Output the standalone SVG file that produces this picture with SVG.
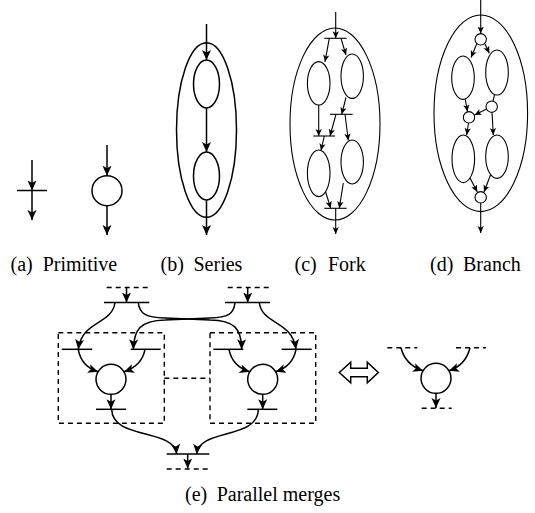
<svg xmlns="http://www.w3.org/2000/svg" width="535" height="513" viewBox="0 0 535 513">
<g id="captions" font-family="'Liberation Serif'" font-size="20" fill="#000">
<text x="10.5" y="270.5">(a)</text>
<text x="42.7" y="270.5">Primitive</text>
<text x="160.5" y="270.5">(b)</text>
<text x="193.5" y="270.5">Series</text>
<text x="294.5" y="270.5">(c)</text>
<text x="328" y="270.5">Fork</text>
<text x="430" y="270.5">(d)</text>
<text x="463" y="270.5">Branch</text>
<text x="185" y="501">(e)</text>
<text x="216.7" y="501">Parallel merges</text>
</g>
<defs>
<marker id="a" viewBox="0 0 10 10" refX="10" refY="5" markerWidth="10" markerHeight="10" markerUnits="userSpaceOnUse" orient="auto"><path d="M0,0.5 L10,5 L0,9.5 L2.5,5 Z" fill="#000" stroke="none"/></marker>
<marker id="b" viewBox="0 0 10 10" refX="10" refY="5" markerWidth="7" markerHeight="7" markerUnits="userSpaceOnUse" orient="auto"><path d="M0,0.5 L10,5 L0,9.5 L2.5,5 Z" fill="#000" stroke="none"/></marker>
</defs>

<g fill="none" stroke="#000" stroke-width="1.5">
<g id="prim-bar"><line x1="17" y1="190.5" x2="47" y2="190.5"/></g>
<g id="prim-circle"><circle cx="107" cy="190.7" r="15"/></g>
<g id="series-outer"><ellipse cx="206.5" cy="130" rx="30" ry="87.3"/></g>
<g id="series-e1"><ellipse cx="206.5" cy="84" rx="13" ry="24"/></g>
<g id="series-e2"><ellipse cx="206.5" cy="176" rx="13" ry="24"/></g>
</g>

<g fill="none" stroke="#000" stroke-width="1.1">
<g id="fork-outer"><ellipse cx="335" cy="124" rx="45" ry="96"/></g>
<g id="fork-bar-top"><line x1="324.3" y1="38.3" x2="346.7" y2="38.3"/></g>
<g id="fork-e1"><ellipse cx="318.7" cy="83.3" rx="11.3" ry="21.7"/></g>
<g id="fork-e2"><ellipse cx="352.2" cy="76.2" rx="11.2" ry="22.2"/></g>
<g id="fork-bar-mid"><line x1="330" y1="114.3" x2="352.7" y2="114.3"/></g>
<g id="fork-bar-2"><line x1="313.3" y1="136" x2="335" y2="136"/></g>
<g id="fork-e3"><ellipse cx="318.7" cy="173.3" rx="11.3" ry="23.3"/></g>
<g id="fork-e4"><ellipse cx="352.2" cy="162" rx="11.2" ry="22"/></g>
<g id="fork-bar-bot"><line x1="324.3" y1="208.3" x2="346.7" y2="208.3"/></g>
<g id="branch-outer"><ellipse cx="480.8" cy="113.3" rx="46.8" ry="98.3"/></g>
<g id="branch-c-top"><circle cx="480.7" cy="39.3" r="5.7"/></g>
<g id="branch-e1"><ellipse cx="463" cy="77.7" rx="11.3" ry="21.7"/></g>
<g id="branch-e2"><ellipse cx="497" cy="72.5" rx="11.3" ry="22.5"/></g>
<g id="branch-c-right"><circle cx="491.7" cy="106.7" r="5.7"/></g>
<g id="branch-c-left"><circle cx="469" cy="117.3" r="5.7"/></g>
<g id="branch-e3"><ellipse cx="463.3" cy="158.8" rx="11.3" ry="23.8"/></g>
<g id="branch-e4"><ellipse cx="497" cy="156.7" rx="11.3" ry="21.7"/></g>
<g id="branch-c-bot"><circle cx="480.7" cy="197.3" r="5.7"/></g>
</g>

<g fill="none" stroke="#000" stroke-width="1.5">
<g id="pm-left-in"><line x1="106.7" y1="287.5" x2="149.3" y2="287.5" stroke-width="1.4" stroke-dasharray="5,4"/><line x1="104" y1="302.5" x2="149.3" y2="302.5"/></g>
<g id="pm-right-in"><line x1="227.7" y1="287.5" x2="270" y2="287.5" stroke-width="1.4" stroke-dasharray="5,4"/><line x1="225" y1="302.5" x2="270" y2="302.5"/></g>
<g id="pm-left-box">
<rect x="58.3" y="332.7" width="106" height="90.6" stroke-width="1.4" stroke-dasharray="5,4"/>
<line x1="61.7" y1="349.3" x2="92.3" y2="349.3"/>
<line x1="130.7" y1="349.3" x2="160.7" y2="349.3"/>
<circle cx="111" cy="379.3" r="15"/>
<line x1="96" y1="409.3" x2="126" y2="409.3"/>
</g>
<g id="pm-right-box">
<rect x="210" y="332.7" width="105.7" height="90.6" stroke-width="1.4" stroke-dasharray="5,4"/>
<line x1="213.3" y1="349.3" x2="243.3" y2="349.3"/>
<line x1="281.7" y1="349.3" x2="311.7" y2="349.3"/>
<circle cx="262.7" cy="379.3" r="15"/>
<line x1="247.3" y1="409.3" x2="277.3" y2="409.3"/>
</g>
<g id="pm-merge"><line x1="166.7" y1="454" x2="209.3" y2="454"/><line x1="166.7" y1="469" x2="209.3" y2="469" stroke-width="1.4" stroke-dasharray="5,4"/></g>
<g id="equiv"><path fill="#fff" d="M339.3,372.5 L350.7,362.3 L350.7,368.3 L367.3,368.3 L367.3,362.3 L378.3,372.5 L367.3,382.7 L367.3,376.7 L350.7,376.7 L350.7,382.7 Z"/></g>
<g id="pm-result">
<line x1="387.3" y1="347.7" x2="417.3" y2="347.7" stroke-width="1.4" stroke-dasharray="5,4"/>
<line x1="456" y1="347.7" x2="486" y2="347.7" stroke-width="1.4" stroke-dasharray="5,4"/>
<circle cx="436" cy="378.3" r="15"/>
<line x1="421.7" y1="408.3" x2="451.7" y2="408.3" stroke-width="1.4" stroke-dasharray="5,4"/>
</g>
</g>

<g id="connectors" fill="none" stroke="#000">
<g stroke-width="1.5" marker-end="url(#a)">
<line x1="32" y1="160" x2="32" y2="190.5"/>
<line x1="32" y1="190.5" x2="32" y2="220"/>
<line x1="107" y1="145" x2="107" y2="175.7"/>
<line x1="107" y1="205.7" x2="107" y2="235"/>
<line x1="206.5" y1="24" x2="206.5" y2="60"/>
<line x1="206.5" y1="108" x2="206.5" y2="152"/>
<line x1="206.5" y1="200" x2="206.5" y2="235"/>
<line x1="126.5" y1="287.5" x2="126.5" y2="302.5"/>
<line x1="247.7" y1="287.5" x2="247.7" y2="302.5"/>
<path d="M115,302.5 C112,325 82,320 78.3,349.3"/>
<path d="M259.3,302.5 C262,325 292,320 296,349.3"/>
<path d="M138.3,302.5 C139.5,314 146,317.5 165,318 L210,320 C234,320.5 241.5,328 241.7,349.3"/>
<path d="M235,302.5 C234,314 228,317.5 210,318 L165,320 C140,320.5 134,330 133.3,349.3"/>
<path d="M78.3,349.3 C80,360 87,368 98,371.8"/>
<path d="M145,349.3 C143,360 135,368 124,371.8"/>
<path d="M229,349.3 C231,360 238,368 249.7,371.8"/>
<path d="M296,349.3 C294,360 287,368 275.7,371.8"/>
<line x1="111" y1="394.3" x2="111" y2="409.3"/>
<line x1="262.7" y1="394.3" x2="262.7" y2="409.3"/>
<path d="M111.7,409.3 C112,440 174,428 176.7,454"/>
<path d="M258.3,409.3 C258,440 199,428 196.7,454"/>
<line x1="187.7" y1="454" x2="187.7" y2="468.5"/>
<path d="M401,347.7 C404,360 412,367 423,370.8"/>
<path d="M470,347.7 C467,360 460,367 449,370.8"/>
<line x1="436" y1="393.3" x2="436" y2="408"/>
</g>
<line x1="164.3" y1="378.3" x2="210" y2="378.3" stroke-width="1.4" stroke-dasharray="5,4"/>
<g stroke-width="1.1" marker-end="url(#b)">
<line x1="335.7" y1="12" x2="335.7" y2="38.3"/>
<line x1="329.3" y1="38.3" x2="325" y2="61.8"/>
<line x1="341" y1="38.3" x2="346" y2="55"/>
<line x1="346" y1="97.5" x2="341.7" y2="114.3"/>
<line x1="318.7" y1="105" x2="318.7" y2="136"/>
<line x1="336" y1="114.3" x2="330" y2="136"/>
<line x1="345" y1="114.3" x2="348.3" y2="140.5"/>
<line x1="324.3" y1="136" x2="321" y2="150.5"/>
<line x1="325.7" y1="192" x2="330.7" y2="208.3"/>
<line x1="343.3" y1="183" x2="339.3" y2="208.3"/>
<line x1="335.7" y1="208.3" x2="335.7" y2="234"/>
<line x1="480.7" y1="0" x2="480.7" y2="33.6"/>
<line x1="476.7" y1="44" x2="471" y2="57.5"/>
<line x1="485" y1="44" x2="489.3" y2="53.3"/>
<line x1="465.3" y1="99.3" x2="467.5" y2="111.6"/>
<line x1="486.2" y1="109.3" x2="474.5" y2="115"/>
<line x1="468.5" y1="123" x2="466.7" y2="135"/>
<line x1="492" y1="112.4" x2="493.3" y2="135"/>
<line x1="470" y1="178" x2="477.3" y2="192"/>
<line x1="490.7" y1="174.5" x2="484" y2="192"/>
<line x1="480.7" y1="203" x2="480.7" y2="233"/>
</g>
<line x1="494.5" y1="94.8" x2="493" y2="101.1" stroke-width="1.1"/>
</g>
</svg>
